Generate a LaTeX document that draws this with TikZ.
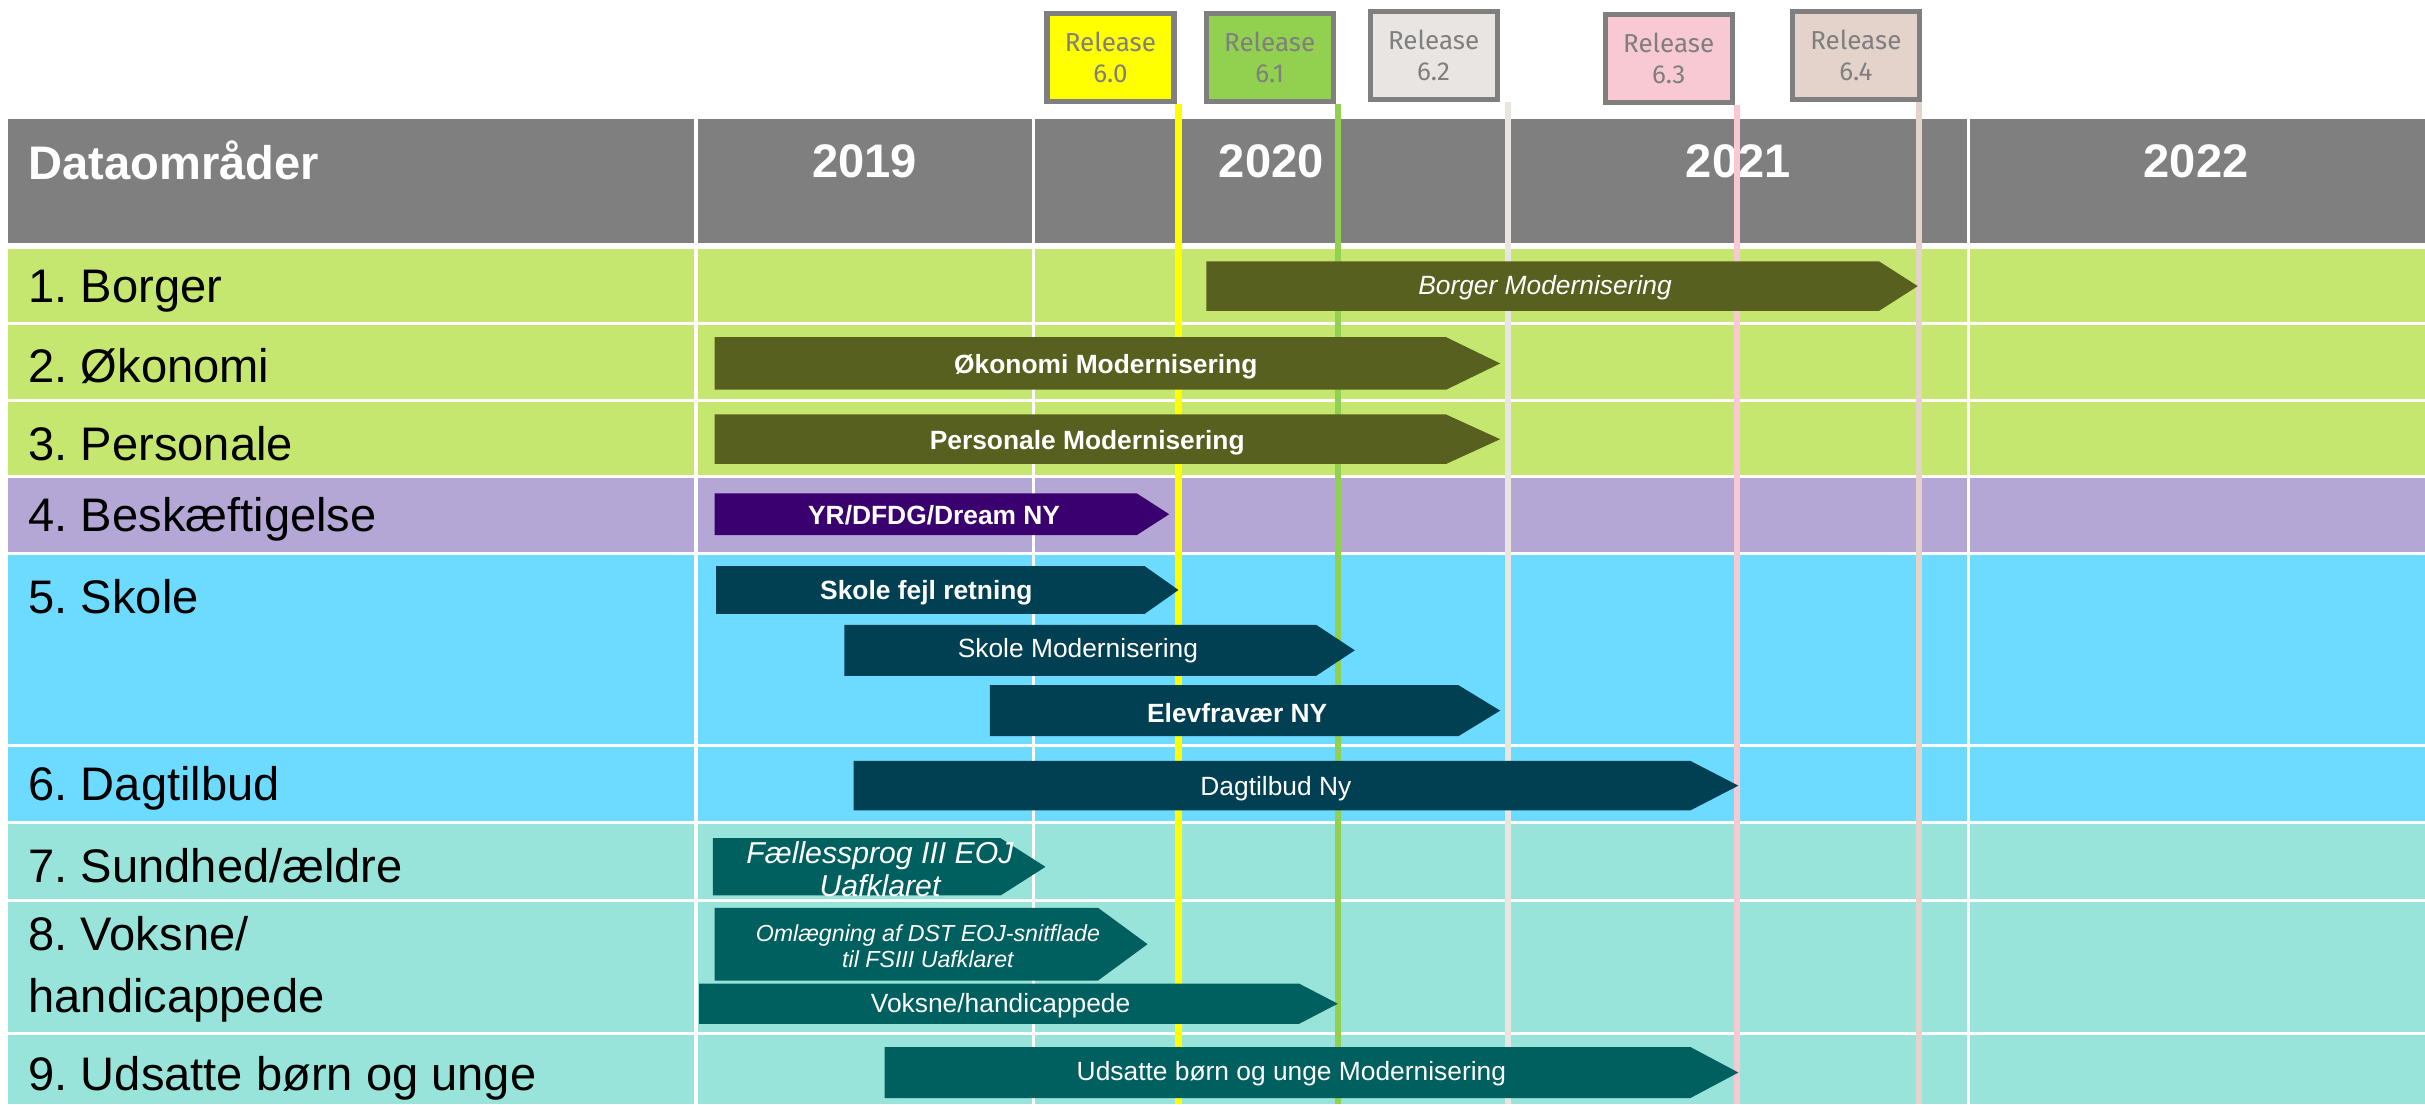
\documentclass[tikz,border=0pt]{standalone}
\usepackage{fontspec}
\setmainfont{Liberation Sans}
\newfontfamily\relfont{Fira Sans}
\frenchspacing

\definecolor{hdrgray}{HTML}{7F7F7F}
\definecolor{rowgreen}{HTML}{C6E76F}
\definecolor{rowpurple}{HTML}{B4A7D6}
\definecolor{rowcyan}{HTML}{6DDAFF}
\definecolor{rowteal}{HTML}{99E4DA}
\definecolor{barolive}{HTML}{58601F}
\definecolor{barpurple}{HTML}{3A0070}
\definecolor{barnavy}{HTML}{013F52}
\definecolor{barteal}{HTML}{005F5F}
\definecolor{rel60}{HTML}{FFFF00}
\definecolor{rel61}{HTML}{92D050}
\definecolor{rel62}{HTML}{E9E5E2}
\definecolor{rel63}{HTML}{F9C9D3}
\definecolor{rel64}{HTML}{E3D3CB}

% bar with a pointed end: x1, tip start, tip, y1, y2, colour
\newcommand{\taskbar}[6]{%
  \fill[#6] (#1,#4) -- (#2,#4) -- (#3,{(#4+#5)/2}) -- (#2,#5) -- (#1,#5) -- cycle;}

\tikzset{
  rowlbl/.style={anchor=west, inner sep=0pt, align=left,
    font=\fontsize{13.4}{17.6}\selectfont},
  yearlbl/.style={inner sep=0pt, text=white,
    font=\bfseries\fontsize{13.4}{16}\selectfont},
  tasklbl/.style={inner sep=0pt, text=white, align=center,
    font=\fontsize{7.5}{9}\selectfont},
  relbox/.style={draw=hdrgray, line width=1.5pt, inner sep=0pt,
    minimum width=12.7mm, minimum height=8.8mm, text=hdrgray, align=center,
    font=\relfont\fontsize{7.4}{8.8}\selectfont},
  relline/.style={line width=1.8pt},
  gridline/.style={white, line width=0.9pt}
}

\begin{document}
\begin{tikzpicture}[x=0.15466mm, y=-0.15466mm]
\useasboundingbox (0,0) rectangle (1568,714);

% rows
\fill[hdrgray] (5,77) rectangle (1568,157);
\fill[rowgreen] (5,161) rectangle (1568,208);
\fill[rowgreen] (5,210) rectangle (1568,258);
\fill[rowgreen] (5,260) rectangle (1568,307);
\fill[rowpurple] (5,309) rectangle (1568,357);
\fill[rowcyan] (5,359) rectangle (1568,481);
\fill[rowcyan] (5,483) rectangle (1568,531);
\fill[rowteal] (5,533) rectangle (1568,581);
\fill[rowteal] (5,583) rectangle (1568,667);
\fill[rowteal] (5,669) rectangle (1568,714);
\foreach \x in {450,668,976,1273}
  \draw[gridline] (\x,77) -- (\x,714);

% header
\node[yearlbl, anchor=west] (hdr) at (18,104) {Dataområder};
\node[yearlbl] (y19) at (559,104) {2019};
\node[yearlbl] (y20) at (822,104) {2020};
\node[yearlbl] (y21) at (1124,104) {2021};
\node[yearlbl] (y22) at (1420,104) {2022};

% row labels
\node[rowlbl] (omr1) at (18,188) {1. Borger};
\node[rowlbl] (omr2) at (18,237) {2. Økonomi};
\node[rowlbl] (omr3) at (18,287) {3. Personale};
\node[rowlbl] (omr4) at (18,336) {4. Beskæftigelse};
\node[rowlbl] (omr5) at (18,386) {5. Skole};
\node[rowlbl] (omr6) at (18,510) {6. Dagtilbud};
\node[rowlbl] (omr7) at (18,560) {7. Sundhed/ældre};
\node[rowlbl] (omr8) at (18,627) {8. Voksne/\\handicappede};
\node[rowlbl] (omr9) at (18,697) {9. Udsatte børn og unge};

% releases
\node[relbox, fill=rel60] (r60) at (718,37) {Release\\6.0};
\node[relbox, fill=rel61] (r61) at (821,37) {Release\\6.1};
\node[relbox, fill=rel62] (r62) at (927,36) {Release\\6.2};
\node[relbox, fill=rel63] (r63) at (1079,38) {Release\\6.3};
\node[relbox, fill=rel64] (r64) at (1200,36) {Release\\6.4};
\coordinate (e60) at (762,714);
\coordinate (e61) at (865,714);
\coordinate (e62) at (975,714);
\coordinate (e63) at (1123,714);
\coordinate (e64) at (1241,714);
\draw[relline, rel60] (r60.south -| e60) -- (e60);
\draw[relline, rel61] (r61.south -| e61) -- (e61);
\draw[relline, rel62] (r62.south -| e62) -- (e62);
\draw[relline, rel63] (r63.south -| e63) -- (e63);
\draw[relline, rel64] (r64.south -| e64) -- (e64);

% bars
\taskbar{780}{1215}{1240}{169}{201}{barolive}
\node[tasklbl] (t1) at (999,186) {\itshape Borger Modernisering};
\taskbar{462}{935}{970}{218}{252}{barolive}
\node[tasklbl] (t2) at (715,237) {\bfseries Økonomi Modernisering};
\taskbar{462}{935}{970}{268}{300}{barolive}
\node[tasklbl] (t3) at (703,286) {\bfseries Personale Modernisering};
\taskbar{462}{735}{756}{319}{346}{barpurple}
\node[tasklbl] (t4) at (604,333) {\bfseries YR/DFDG/Dream NY};
\taskbar{463}{740}{762}{366}{397}{barnavy}
\node[tasklbl] (t5a) at (599,383) {\bfseries Skole fejl retning};
\taskbar{546}{851}{876}{404}{437}{barnavy}
\node[tasklbl] (t5b) at (697,421) {Skole Modernisering};
\taskbar{640}{943}{970}{443}{476}{barnavy}
\node[tasklbl] (t5c) at (800,461) {\bfseries Elevfravær NY};
\taskbar{552}{1093}{1124}{492}{524}{barnavy}
\node[tasklbl] (t6) at (825,510) {Dagtilbud Ny};
\taskbar{461}{647}{676}{542}{579}{barteal}
\node[tasklbl, font=\itshape\fontsize{8.6}{9.3}\selectfont] (t7) at (569,562)
  {Fællessprog III EOJ\\Uafklaret};
\taskbar{462}{710}{742}{587}{634}{barteal}
\node[tasklbl, font=\itshape\fontsize{6.6}{7.5}\selectfont] (t8a) at (600,612)
  {Omlægning af DST EOJ-snitflade\\til FSIII Uafklaret};
\taskbar{452}{840}{865}{636}{662}{barteal}
\node[tasklbl] (t8b) at (647,650) {Voksne/handicappede};
\taskbar{572}{1093}{1124}{677}{710}{barteal}
\node[tasklbl] (t9) at (835,694) {Udsatte børn og unge Modernisering};

\end{tikzpicture}
\end{document}
